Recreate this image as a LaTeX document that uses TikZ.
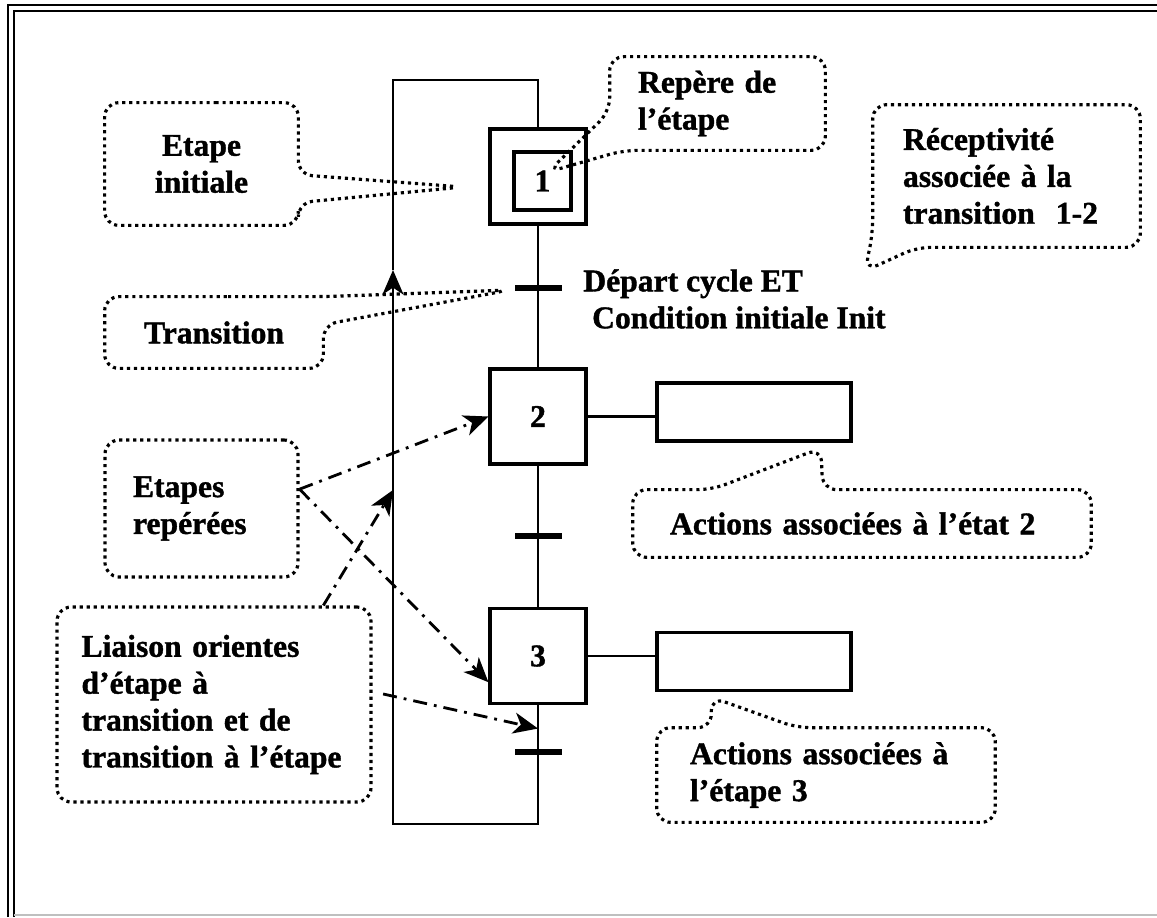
\documentclass[tikz,border=0pt]{standalone}
\usepackage{fontspec}
\setmainfont{Liberation Serif}[BoldFeatures={FakeBold=1.2}]
\usepackage{tikz}
\usetikzlibrary{arrows.meta, calc}

\begin{document}
\begin{tikzpicture}[x=0.02cm, y=-0.02cm, font=\fontsize{18}{21}\selectfont\bfseries]
    \tikzset{etape/.style = {shape=rectangle, draw, line width=1.8pt, minimum width=1.92cm, minimum height=1.9cm, inner sep=0pt}}
    \tikzset{action/.style = {draw, line width=1.8pt, minimum width=3.88cm, minimum height=1.16cm}}
    \tikzset{barre/.style = {fill, minimum width=0.94cm, minimum height=0.11cm, inner sep=0pt}}
    \tikzset{link/.style = {line width=1.6pt}}
    \tikzset{note/.style = {inner sep=0pt, align=left}}
    \tikzset{bulle/.style = {line width=1.8pt, dash pattern=on 1.8pt off 2.2pt, rounded corners=8pt}}
    \tikzset{fleche/.style = {line width=1.6pt, dash pattern=on 8pt off 4pt on 1.6pt off 4pt, -{Stealth[length=14pt,width=12pt,inset=4pt]}}}
    \useasboundingbox (0,0) rectangle (1157,917);
    % frame
    \draw[line width=1.2pt] (8,917) -- (8,5) -- (1157,5);
    \draw[line width=1.2pt] (14,917) -- (14,11) -- (1157,11);
    \draw[gray!50, line width=0.6pt] (14,915) -- (1157,915);
    % steps
    \node[etape] (e1) at (538,176.5) {};
    \node[etape, minimum width=1.14cm, minimum height=1.16cm] (e1i) at (542.5,181) {1};
    \node[etape] (e2) at (538,416.5) {2};
    \node[etape] (e3) at (538,656) {3};
    % transitions
    \node[barre] (t1) at (538,288) {};
    \node[barre] (t2) at (538,536) {};
    \node[barre] (t3) at (538,752) {};
    % actions
    \node[action] (a2) at (754,412) {};
    \node[action] (a3) at (754,661.5) {};
    % receptivity
    \node[note, anchor=west] (cond1) at (583,299) {Départ cycle ET\\\hspace{5pt}Condition initiale Init};
    %edges
    \coordinate (bas) at (393,824);
    \coordinate (haut) at (393,80);
    \coordinate (retour) at (393,270);
    \draw[link] (e1) -- (e2);
    \draw[link] (e2) -- (e3);
    \draw[link] (e2) -- (e2 -| a2.west);
    \draw[link] (e3) -- (e3 -| a3.west);
    \draw[link, -{Stealth[length=14pt,width=12pt,inset=4pt]}] (e3.south) |- (bas) -- (retour);
    \draw[link] (retour) -- (haut) -| (e1.north);
    % notes
    \node[note, align=center, minimum width=3.86cm, minimum height=2.44cm] (cinit) at (201.5,164) {Etape\\initiale};
    \coordinate (pinit) at (463,187);
    \draw[bulle] (cinit.north) -- (cinit.north east) -- ($(cinit.north east)+(0,72)$) -- (pinit)
        -- ($(cinit.north east)+(0,100)$) -- (cinit.south east) -- (cinit.south west) -- (cinit.north west) -- cycle;

    \node[note, minimum width=4.3cm, minimum height=1.86cm, text width=3.18cm] (crep) at (717.5,103.5) {Repère de\\l’étape};
    \coordinate (prep) at (548,172);
    \draw[bulle] (crep.north) -- (crep.north west) -- ($(crep.north west)+(0,55)$) -- (prep)
        -- ($(crep.south west)+(14,0)$) -- (crep.south east) -- (crep.north east) -- cycle;

    \node[note, minimum width=5.34cm, minimum height=2.84cm, text width=4.14cm] (crec) at (1006.5,176) {Réceptivité\\associée à la\\transition~ 1-2};
    \coordinate (prec) at (865,271);
    \draw[bulle] (crec.north) -- (crec.north west) -- ($(crec.south west)+(0,-14)$) -- (prec)
        -- ($(crec.south west)+(44,0)$) -- (crec.south east) -- (crec.north east) -- cycle;

    \node[note, align=center, minimum width=4.36cm, minimum height=1.42cm] (ctrans) at (214,332.5) {Transition};
    \coordinate (ptrans) at (510,290);
    \draw[bulle] (ctrans.north) -- (ctrans.north east) -- (ptrans) -- ($(ctrans.north east)+(0,28)$)
        -- (ctrans.south east) -- (ctrans.south west) -- (ctrans.north west) -- cycle;

    \node[note, bulle, draw, minimum width=3.86cm, minimum height=2.74cm, text width=2.74cm] (crepe) at (201.5,508.5) {Etapes\\repérées};

    \node[note, bulle, draw, minimum width=6.28cm, minimum height=3.9cm, text width=5.3cm] (cliais) at (214,704.5)
        {Liaison orientes\\d’étape à\\transition et de\\transition à l’étape};

    \node[note, minimum width=9.16cm, minimum height=1.34cm, text width=7.68cm] (cact2) at (862,523.5) {Actions associées à l’état 2};
    \coordinate (pact2) at (821,448);
    \draw[bulle] (cact2.west) -- (cact2.north west) -- ($(cact2.north west)+(79,0)$) -- (pact2)
        -- ($(cact2.north west)+(190,0)$) -- (cact2.north east) -- (cact2.south east) -- (cact2.south west) -- cycle;

    \node[note, minimum width=6.76cm, minimum height=1.88cm, text width=5.44cm] (cact3) at (826,775) {Actions associées à\\l’étape 3};
    \coordinate (pact3) at (711,697);
    \draw[bulle] (cact3.west) -- (cact3.north west) -- ($(cact3.north west)+(55,0)$) -- (pact3)
        -- ($(cact3.north west)+(140,0)$) -- (cact3.north east) -- (cact3.south east) -- (cact3.south west) -- cycle;
    % oriented links
    \coordinate (pliais) at (393,490);
    \draw[fleche] ([yshift=11pt]crepe.east) -- (e2.west);
    \draw[fleche] ([yshift=11pt]crepe.east) -- ([yshift=13pt]e3.south west);
    \draw[fleche] ([xshift=-28pt]cliais.north east) -- (pliais);
    \draw[fleche] ([xshift=6pt,yshift=6pt]cliais.east) -- ($(e3.south)!0.5!(t3)$);
\end{tikzpicture}
\end{document}
